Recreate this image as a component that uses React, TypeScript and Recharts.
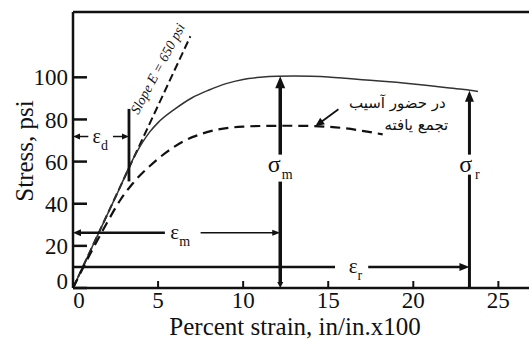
import { ComposedChart, Line, XAxis, YAxis, ReferenceLine, ReferenceDot } from "recharts"

const strainTicks = [0, 5, 10, 15, 20, 25]
const stressTicks = [0, 20, 40, 60, 80, 100]
const strainMax = 26.8
const stressMax = 131

// undamaged material (solid)
const intactStrain = [0, 1, 2, 2.8, 3.3, 4, 4.5, 5, 6, 7, 8, 8.5, 9, 10, 11, 12, 13, 14, 15, 16, 17, 18, 19, 20, 21, 22, 23, 23.8]
const intactStress = [0, 17.3, 34.6, 48.4, 57.5, 68, 74, 78.5, 85, 90.3, 94, 95.6, 97, 99, 100, 100.5, 100.6, 100.5, 100.2, 99.6, 98.9, 98.3, 97.6, 96.8, 96, 95.1, 94.2, 93.3]

// with accumulated damage (dashed)
const damagedStrain = [0, 1, 2, 2.8, 3.5, 4.5, 5.5, 6.5, 7.5, 8.5, 10, 11, 12.2, 13, 14, 15, 16, 17, 18.2]
const damagedStress = [0, 16, 31, 42, 49.5, 57.8, 64.5, 69.7, 73, 75.2, 76.6, 76.9, 77, 77, 76.9, 76.5, 75.8, 74.6, 72.9]

// initial slope E
const slopeStrain = [0, 6.9]
const slopeStress = [0, 119.5]

// annotation positions (data units)
const epsD = { x: 3.29, y: 71.9, top: 85, bottom: 50.6, leftEnd: 0.9, rightStart: 2.35, labelX: 1.6 }
const epsM = { y: 26.2, leftEnd: 5.4, rightStart: 7.5, end: 12.18, labelX: 6.3 }
const epsR = { y: 10, leftEnd: 15.4, rightStart: 17.35, end: 23.3, labelX: 16.6 }
const sigM = { x: 12.18, top: 100.5, gapTop: 63.3, gapBottom: 50.5, labelY: 58.5 }
const sigR = { x: 23.3, top: 93.6, gapTop: 63.3, gapBottom: 53.8, labelY: 58.5 }
const noteLines = ["در حضور آسیب", "تجمع یافته"]
const notePos = [
  { x: 19.06, y: 88.1 },
  { x: 20.18, y: 77.6 },
]
const noteArrow = [
  { x: 15.6, y: 84.8 },
  { x: 14.24, y: 76.8 },
]
const slopeLabel = { x: 5.22, y: 103, text: "Slope E = 650 psi" }

const toPoints = (xs: number[], ys: number[]) => xs.map((x, i) => ({ x, y: ys[i] }))

const intact = toPoints(intactStrain, intactStress)
const damaged = toPoints(damagedStrain, damagedStress)
const slope = toPoints(slopeStrain, slopeStress)

const ink = "#111"
const serif = "'Liberation Serif', 'Times New Roman', serif"

function head(tx: number, ty: number, ux: number, uy: number, len: number, half: number) {
  const bx = tx - ux * len
  const by = ty - uy * len
  return `${tx},${ty} ${bx - uy * half},${by + ux * half} ${bx + uy * half},${by - ux * half}`
}

function arrowShape(opts: { start?: boolean; end?: boolean; w?: number; len?: number; half?: number }) {
  return (p: any) => {
    const { x1, y1, x2, y2 } = p
    const w = opts.w ?? 2.5
    const len = opts.len ?? 9
    const half = opts.half ?? 4
    const dx = x2 - x1
    const dy = y2 - y1
    const d = Math.hypot(dx, dy) || 1
    const ux = dx / d
    const uy = dy / d
    const sx = opts.start ? x1 + ux * len * 0.8 : x1
    const sy = opts.start ? y1 + uy * len * 0.8 : y1
    const ex = opts.end ? x2 - ux * len * 0.8 : x2
    const ey = opts.end ? y2 - uy * len * 0.8 : y2
    return (
      <g>
        <line x1={sx} y1={sy} x2={ex} y2={ey} stroke={ink} strokeWidth={w} />
        {opts.start && <polygon points={head(x1, y1, -ux, -uy, len, half)} fill={ink} />}
        {opts.end && <polygon points={head(x2, y2, ux, uy, len, half)} fill={ink} />}
      </g>
    )
  }
}

function subLabel(main: string, sub: string, size = 21, dxSub = 0) {
  return (p: any) => (
    <text x={p.cx} y={p.cy} dy="0.3em" textAnchor="middle" fontFamily={serif} fontSize={size} fill={ink}>
      {main}
      <tspan fontSize={14} dy={7} dx={dxSub}>
        {sub}
      </tspan>
    </text>
  )
}

const YTick = (p: any) => {
  const { x, y, payload } = p
  return (
    <g>
      <line x1={x + 5} x2={x + 19} y1={y} y2={y} stroke={ink} strokeWidth={2.5} />
      <text x={x} y={payload.value === 0 ? y - 7 : y} dy="0.35em" textAnchor="end" fontFamily={serif} fontSize={23} fill={ink}>
        {payload.value}
      </text>
    </g>
  )
}

const XTick = (p: any) => {
  const { x, y, payload } = p
  return (
    <g>
      {payload.value !== 0 && <line x1={x} x2={x} y1={y - 4} y2={y - 11} stroke={ink} strokeWidth={2} />}
      <text x={payload.value === 0 ? x + 6 : x} y={y} dy="0.71em" textAnchor="middle" fontFamily={serif} fontSize={23} fill={ink}>
        {payload.value}
      </text>
    </g>
  )
}

const YTitle = (p: any) => {
  const vb = p.viewBox
  const cx = vb.x + 33
  const cy = vb.y + vb.height / 2 + 1
  return (
    <text x={cx} y={cy} transform={`rotate(-90 ${cx} ${cy})`} textAnchor="middle" fontFamily={serif} fontSize={25} fill={ink}>
      Stress, psi
    </text>
  )
}

export default function App() {
  return (
    <div style={{ position: "absolute", left: 0, top: 0, width: 529, height: 340, background: "#fff" }}>
      <ComposedChart width={529} height={340} margin={{ top: 12, right: 0, bottom: 0, left: 0 }}>
        <XAxis
          dataKey="x"
          type="number"
          domain={[0, strainMax]}
          ticks={strainTicks}
          allowDataOverflow
          height={52}
          tickSize={0}
          tickMargin={4}
          tick={<XTick />}
          axisLine={{ stroke: ink, strokeWidth: 2.5 }}
          tickLine={false}
          label={{ value: "Percent strain, in/in.x100", position: "insideBottom", offset: 5, fontSize: 25, fill: ink, fontFamily: serif, dx: -6 }}
        />
        <YAxis
          type="number"
          domain={[0, stressMax]}
          ticks={stressTicks}
          allowDataOverflow
          width={73}
          tickSize={0}
          tickMargin={5}
          tick={<YTick />}
          axisLine={{ stroke: ink, strokeWidth: 2.5 }}
          tickLine={false}
          label={<YTitle />}
        />
        <ReferenceLine y={stressMax} stroke={ink} strokeWidth={2.5} />

        <Line data={slope} dataKey="y" type="linear" stroke={ink} strokeWidth={2} strokeDasharray="8 4" dot={false} isAnimationActive={false} />
        <Line data={intact} dataKey="y" type="monotone" stroke="#333" strokeWidth={1.5} dot={false} isAnimationActive={false} />
        <Line data={damaged} dataKey="y" type="monotone" stroke={ink} strokeWidth={2.2} strokeDasharray="10 6" dot={false} isAnimationActive={false} />

        {/* epsilon_d */}
        <ReferenceLine segment={[{ x: epsD.x, y: epsD.bottom }, { x: epsD.x, y: epsD.top }]} shape={arrowShape({ w: 2.8 })} />
        <ReferenceLine segment={[{ x: 0, y: epsD.y }, { x: epsD.leftEnd, y: epsD.y }]} shape={arrowShape({ start: true, w: 1.5, len: 7, half: 3 })} />
        <ReferenceLine segment={[{ x: epsD.rightStart, y: epsD.y }, { x: epsD.x, y: epsD.y }]} shape={arrowShape({ end: true, w: 1.5, len: 7, half: 3 })} />
        <ReferenceDot x={epsD.labelX} y={epsD.y} shape={subLabel("ε", "d", 20)} />

        {/* epsilon_m */}
        <ReferenceLine segment={[{ x: 0, y: epsM.y }, { x: epsM.leftEnd, y: epsM.y }]} shape={arrowShape({ start: true, w: 2.5, len: 8, half: 3.5 })} />
        <ReferenceLine segment={[{ x: epsM.rightStart, y: epsM.y }, { x: epsM.end, y: epsM.y }]} shape={arrowShape({ end: true, w: 1.5, len: 8, half: 3 })} />
        <ReferenceDot x={epsM.labelX} y={epsM.y} shape={subLabel("ε", "m", 21)} />

        {/* epsilon_r */}
        <ReferenceLine segment={[{ x: 0, y: epsR.y }, { x: epsR.leftEnd, y: epsR.y }]} shape={arrowShape({ w: 2.5 })} />
        <ReferenceLine segment={[{ x: epsR.rightStart, y: epsR.y }, { x: epsR.end, y: epsR.y }]} shape={arrowShape({ end: true, w: 2.5, len: 10, half: 4 })} />
        <ReferenceDot x={epsR.labelX} y={epsR.y} shape={subLabel("ε", "r", 21)} />

        {/* sigma_m */}
        <ReferenceLine segment={[{ x: sigM.x, y: sigM.gapTop }, { x: sigM.x, y: sigM.top }]} shape={arrowShape({ end: true, w: 3.5, len: 12, half: 5 })} />
        <ReferenceLine segment={[{ x: sigM.x, y: sigM.gapBottom }, { x: sigM.x, y: 0 }]} shape={arrowShape({ end: true, w: 3.5, len: 6, half: 3 })} />
        <ReferenceDot x={sigM.x} y={sigM.labelY} shape={subLabel("σ", "m", 24, 1)} />

        {/* sigma_r */}
        <ReferenceLine segment={[{ x: sigR.x, y: sigR.gapTop }, { x: sigR.x, y: sigR.top }]} shape={arrowShape({ end: true, w: 3, len: 11, half: 4.5 })} />
        <ReferenceLine segment={[{ x: sigR.x, y: sigR.gapBottom }, { x: sigR.x, y: 0 }]} shape={arrowShape({ w: 3 })} />
        <ReferenceDot x={sigR.x} y={sigR.labelY} shape={subLabel("σ", "r", 24, 3)} />

        {/* damage note */}
        <ReferenceLine segment={noteArrow} shape={arrowShape({ end: true, w: 1.8, len: 9, half: 4 })} />
        {noteLines.map((t, i) => (
          <ReferenceDot
            key={t}
            x={notePos[i].x}
            y={notePos[i].y}
            shape={(p: any) => (
              <text x={p.cx} y={p.cy} dy="0.35em" textAnchor="middle" direction="rtl" fontFamily="'DejaVu Sans', sans-serif" fontSize={15} fill={ink}>
                {t}
              </text>
            )}
          />
        ))}

        {/* slope label */}
        <ReferenceDot
          x={slopeLabel.x}
          y={slopeLabel.y}
          shape={(p: any) => (
            <text
              x={p.cx}
              y={p.cy}
              transform={`rotate(-62 ${p.cx} ${p.cy})`}
              textAnchor="middle"
              fontFamily={serif}
              fontStyle="italic"
              fontSize={14}
              fill={ink}
            >
              {slopeLabel.text}
            </text>
          )}
        />
      </ComposedChart>
    </div>
  )
}
